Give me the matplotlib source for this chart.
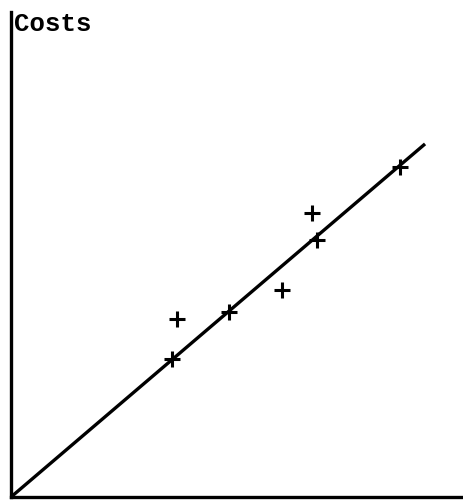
import matplotlib
matplotlib.use("Agg")
import matplotlib.pyplot as plt

# observed points (arbitrary units, 0-100 on both axes)
output = [35.5, 36.6, 48.1, 59.8, 66.4, 67.6, 85.9]
costs = [28.4, 36.8, 38.2, 42.6, 58.5, 53.0, 68.1]

# fitted cost line through the origin
line_x = [0, 91.4]
line_y = [0, 72.8]

fig = plt.figure(figsize=(4.64, 5.01), dpi=100)
ax = fig.add_axes([11 / 464, 4 / 501, 453 / 464, 485 / 501])

ax.plot(line_x, line_y, color='black', linewidth=2.4, solid_capstyle='butt')
ax.plot(output, costs, linestyle='none', marker='+', markersize=11,
        markeredgewidth=2.2, color='black')

ax.set_xlim(0, 100)
ax.set_ylim(0, 100)
ax.spines['top'].set_visible(False)
ax.spines['right'].set_visible(False)
ax.spines['left'].set_linewidth(2.4)
ax.spines['bottom'].set_linewidth(2.4)
ax.set_xticks([])
ax.set_yticks([])

ax.text(0.006, 1.0, 'Costs', transform=ax.transAxes, ha='left', va='top',
        family='Liberation Mono', fontsize=18.5, fontweight='bold')

fig.savefig('out.png', dpi=100)
